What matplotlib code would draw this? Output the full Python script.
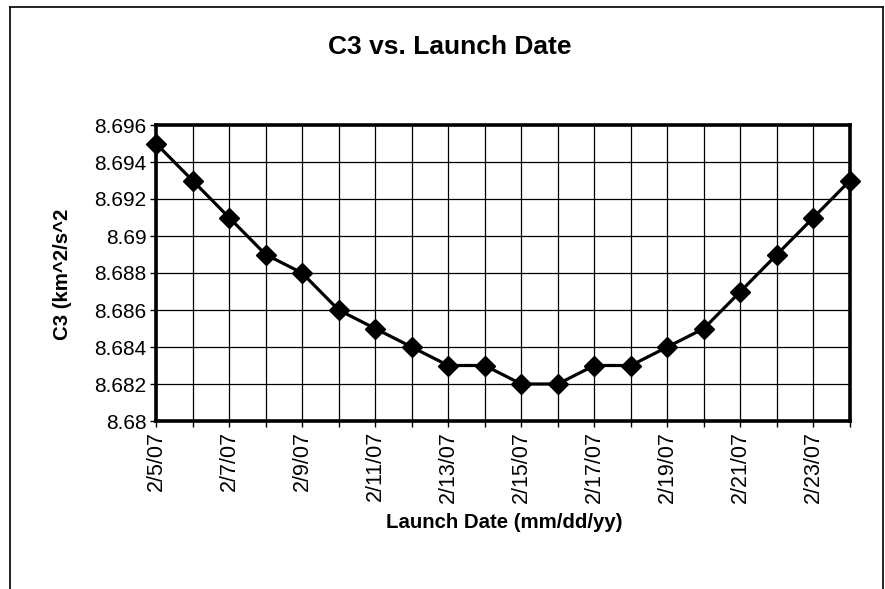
import matplotlib
matplotlib.use("Agg")
import matplotlib.pyplot as plt
from matplotlib.lines import Line2D

plt.rcParams['font.family'] = ['Liberation Sans', 'DejaVu Sans']

dates = ["2/5/07", "2/6/07", "2/7/07", "2/8/07", "2/9/07", "2/10/07", "2/11/07",
         "2/12/07", "2/13/07", "2/14/07", "2/15/07", "2/16/07", "2/17/07",
         "2/18/07", "2/19/07", "2/20/07", "2/21/07", "2/22/07", "2/23/07", "2/24/07"]
c3 = [8.695, 8.693, 8.691, 8.689, 8.688, 8.686, 8.685, 8.684, 8.683, 8.683,
      8.682, 8.682, 8.683, 8.683, 8.684, 8.685, 8.687, 8.689, 8.691, 8.693]
y_ticks = [8.68, 8.682, 8.684, 8.686, 8.688, 8.69, 8.692, 8.694, 8.696]
y_tick_labels = ["8.68", "8.682", "8.684", "8.686", "8.688", "8.69", "8.692", "8.694", "8.696"]

fig = plt.figure(figsize=(8.85, 5.89), dpi=100)
ax = fig.add_axes([156/885, 1-421/589, (850-156)/885, (421-125)/589])

x = list(range(len(dates)))
ax.plot(x, c3, color='black', lw=2.3, marker='D', ms=10, mfc='black', mec='black',
        clip_on=False, zorder=5)

ax.set_xlim(0, len(dates)-1)
ax.set_ylim(y_ticks[0], y_ticks[-1])
ax.set_xticks(x)
ax.set_xticklabels([d if i % 2 == 0 else "" for i, d in enumerate(dates)],
                   rotation=90, fontsize=15.5)
ax.set_yticks(y_ticks)
ax.set_yticklabels(y_tick_labels, fontsize=15)
ax.tick_params(axis='both', direction='out', length=4, width=1, color='black', pad=3)

ax.grid(True, color='black', lw=0.9)
ax.set_axisbelow(True)
for s in ax.spines.values():
    s.set_linewidth(2.6)
    s.set_color('black')

ax.set_title("C3 vs. Launch Date", fontsize=19, fontweight='bold', pad=0,
             x=(450-156)/(850-156), y=(421-47)/(421-125), va='center')
fig.text(504/885, 1-522/589, "Launch Date (mm/dd/yy)", fontsize=14.7,
         fontweight='bold', ha='center', va='center')
fig.text(63/885, 1-274/589, "C3 (km^2/s^2", fontsize=14.7, fontweight='bold',
         rotation=90, ha='center', va='center')

# outer frame (bottom edge cut off)
fig.add_artist(Line2D([10/885, 10/885], [0, 1-7/589], color='black', lw=1.2))
fig.add_artist(Line2D([10/885, 883/885], [1-7/589, 1-7/589], color='black', lw=1.2))
fig.add_artist(Line2D([883/885, 883/885], [1-7/589, 0], color='black', lw=1.2))

fig.savefig("out.png", dpi=100)
